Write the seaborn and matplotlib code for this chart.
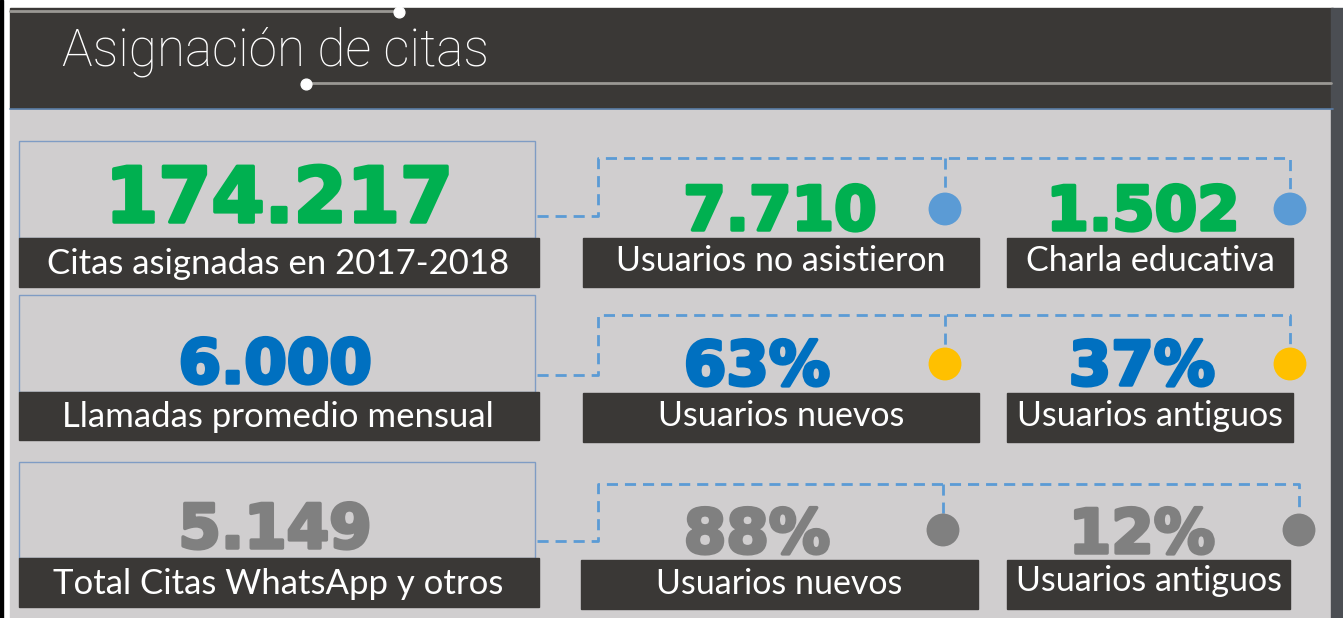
# ASIGNACION DE CITAS - INFOGRAFIA

import numpy as np
import pandas as pd
import matplotlib.pyplot as plt
import seaborn as sns
from matplotlib.patches import Rectangle
import matplotlib.patheffects as pe

# DATA

title = "Asignación de citas"
main_values = ["174.217", "6.000", "5.149"]
main_labels = ["Citas asignadas en 2017-2018",
               "Llamadas promedio mensual",
               "Total Citas WhatsApp y otros"]
sub_values = [["7.710", "1.502"], ["63%", "37%"], ["88%", "12%"]]
sub_labels = [["Usuarios no asistieron", "Charla educativa"],
              ["Usuarios nuevos", "Usuarios antiguos"],
              ["Usuarios nuevos", "Usuarios antiguos"]]
value_colors = ["#00b050", "#0070c0", "#808080"]
dot_colors = ["#5b9bd5", "#ffc000", "#808080"]

# LAYOUT (pixels, top origin)

W, H = 1343, 618
dark = "#3a3836"
bg = "#d0cecf"
dash_col = "#5b9bd5"

box_top = [141, 295, 462]
label_top = [238, 392, 558]
label_bot = [287, 440, 607]
main_x = [279, 275, 275]
main_base = [222, 383, 548]
main_size = [55, 44, 44]

sub_box_x = [[(583, 979), (1007, 1293)],
             [(583, 979), (1007, 1293)],
             [(581, 978), (1007, 1290)]]
sub_box_y = [(238, 287), (393, 442), (560, 609)]
sub_text_y = [[261, 261], [416, 416], [584, 581]]
sub_x = [[780, 1143], [757, 1142], [757, 1142]]
sub_base = [230, 385, 553]
dot_x = [[945, 1290], [945, 1290], [943, 1299]]
dot_y = [209, 364, 530]
dash_top = [158, 315, 484]
dash_mid = [216, 375, 541]

sns.set_theme(style="white")
plt.rcParams['font.family'] = ['Lato', 'DejaVu Sans']

fig = plt.figure(figsize=(W / 100, H / 100), dpi=100)
ax = fig.add_axes([0, 0, 1, 1])
ax.set_xlim(0, W)
ax.set_ylim(H, 0)
ax.axis("off")
fig.patch.set_facecolor("white")

# frame and header
ax.add_patch(Rectangle((10, 108), 1321, 510, color=bg, zorder=0))
ax.add_patch(Rectangle((10, 8), 1323, 100, color=dark, zorder=1))
ax.plot([10, 1333], [108.5, 108.5], color="#5a7ea8", lw=1.2, zorder=2)
ax.add_patch(Rectangle((0, 0), 3, H, color="black", zorder=1))
ax.add_patch(Rectangle((1331, 8), 12, H, color="#4b4e53", zorder=1))
ax.plot([10, 399], [10.5, 10.5], color="#9a9894", lw=2, zorder=2)
ax.plot([306, 1331], [83, 83], color="#9a9894", lw=2, zorder=2)
ax.scatter([399, 306], [12, 84], s=60, color="white", zorder=3)
ax.text(62, 52, title, color="white", fontsize=37, family=["Roboto", "DejaVu Sans"],
        fontweight="light", va="center", ha="left", zorder=3)

stroke = lambda c: [pe.withStroke(linewidth=2.5, foreground=c)]

dots = []
for i in range(3):
    # main box
    ax.add_patch(Rectangle((19, box_top[i]), 516, label_top[i] - box_top[i],
                           facecolor="none", edgecolor="#7f9cc4", lw=1, zorder=2))
    ax.add_patch(Rectangle((19, label_top[i]), 520, label_bot[i] - label_top[i],
                           color=dark, zorder=2))
    ax.text(278, (label_top[i] + label_bot[i]) / 2 + 1, main_labels[i], color="white",
            fontsize=25, ha="center", va="center", zorder=3)
    ax.text(main_x[i], main_base[i], main_values[i], color=value_colors[i],
            fontsize=main_size[i], fontweight="bold", family=["DejaVu Sans"],
            ha="center", va="baseline", zorder=3, path_effects=stroke(value_colors[i]))

    # dashed connectors
    x0, x1 = dot_x[i]
    ax.plot([537, 598, 598, x1, x1], [dash_mid[i], dash_mid[i], dash_top[i], dash_top[i], dot_y[i] - 14],
            color=dash_col, lw=2, dashes=(4, 2.5), zorder=2)
    ax.plot([x0, x0], [dash_top[i], dot_y[i] - 14], color=dash_col, lw=2,
            dashes=(4, 2.5), zorder=2)

    for j in range(2):
        bx0, bx1 = sub_box_x[i][j]
        by0, by1 = sub_box_y[i]
        ax.add_patch(Rectangle((bx0, by0), bx1 - bx0, by1 - by0, color=dark, zorder=2))
        ax.text((bx0 + bx1) / 2, sub_text_y[i][j], sub_labels[i][j], color="white",
                fontsize=24.5, ha="center", va="center", zorder=3)
        ax.text(sub_x[i][j], sub_base[i], sub_values[i][j], color=value_colors[i],
                fontsize=44, fontweight="bold", family=["DejaVu Sans"],
                ha="center", va="baseline", zorder=3, path_effects=stroke(value_colors[i]))
        dots.append({"x": dot_x[i][j], "y": dot_y[i], "row": str(i)})

dots = pd.DataFrame(dots)
sns.scatterplot(data=dots, x="x", y="y", hue="row", palette=dot_colors,
                s=560, linewidth=0, legend=False, ax=ax, zorder=4)
ax.set_xlim(0, W)
ax.set_ylim(H, 0)
ax.axis("off")

fig.savefig("out.png", dpi=100)
